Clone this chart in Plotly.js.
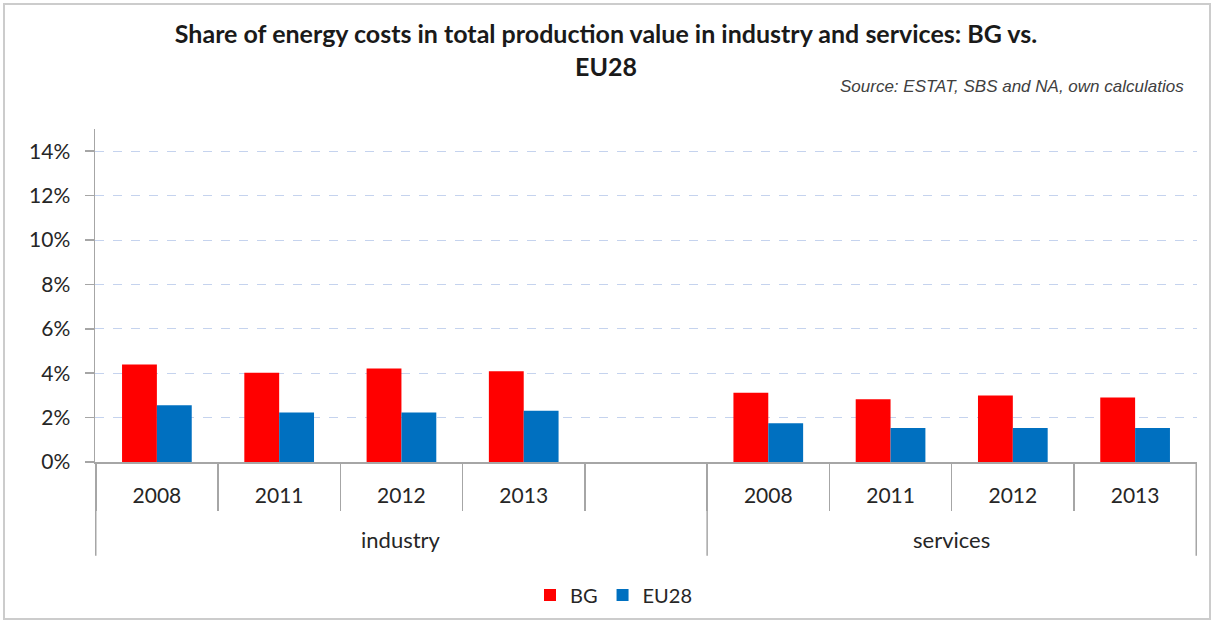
<!DOCTYPE html>
<html>
<head>
<meta charset="utf-8">
<script src="https://cdn.plot.ly/plotly-3.0.1.min.js"></script>
<style>
  html, body { margin: 0; padding: 0; background: #ffffff; }
  #wrap { position: relative; width: 1213px; height: 625px; overflow: hidden; }
  #chart { position: absolute; left: 0; top: 0; width: 1213px; height: 625px; }
  #frame { position: absolute; left: 3px; top: 3px; width: 1208px; height: 617px;
           border: 2px solid #cccccc; box-sizing: border-box; pointer-events: none; }
</style>
</head>
<body>
<div id="wrap">
  <div id="chart"></div>
  <div id="frame"></div>
</div>
<script>
// ---- data ----
var sectors = ['industry', 'industry', 'industry', 'industry', 'industry',
               'services', 'services', 'services', 'services'];
var years   = ['2008', '2011', '2012', '2013', '',
               '2008', '2011', '2012', '2013'];
var bgValues   = [4.39, 4.02, 4.21, 4.09, null, 3.12, 2.83, 3.00, 2.91];
var eu28Values = [2.56, 2.23, 2.23, 2.31, null, 1.75, 1.53, 1.53, 1.53];
var seriesNames = ['BG', 'EU28'];
var yTickValues = [0, 2, 4, 6, 8, 10, 12, 14];

// unique category keys (sector + year), shown with the year only
var categories = sectors.map(function (s, i) { return s + '|' + years[i] + '|' + i; });

var FONT = 'Lato, "Open Sans", sans-serif';
var AXIS_GREY = '#a6a6a6';
var TEXT = '#262626';

// plot-area geometry (pixels) used to place the group row below the axis
var PLOT_H = 625 - 129 - 162;
var GROUP_LABEL_Y = -(541 - 463) / PLOT_H;
var DIVIDER_END_Y = -(557 - 463) / PLOT_H;

var traces = [
  { type: 'bar', name: seriesNames[0], x: categories, y: bgValues,
    marker: { color: '#ff0000' }, hoverinfo: 'y+name' },
  { type: 'bar', name: seriesNames[1], x: categories, y: eu28Values,
    marker: { color: '#0070c0' }, hoverinfo: 'y+name' }
];

// group labels and group dividers, derived from the sector list
var groups = [];
sectors.forEach(function (s, i) {
  var g = groups.length ? groups[groups.length - 1] : null;
  if (!g || g.name !== s) groups.push({ name: s, first: i, last: i });
  else g.last = i;
});

var annotations = [
  { text: '<i>Source: ESTAT, SBS and NA, own calculatios</i>',
    xref: 'paper', yref: 'paper', x: (1186 - 95) / 1102, xanchor: 'right',
    y: (463 - 86) / PLOT_H, yanchor: 'middle', showarrow: false,
    font: { family: '"Liberation Sans", Arial, sans-serif', size: 17, color: '#404040' } }
];
var shapes = [];
groups.forEach(function (g, k) {
  annotations.push({
    text: g.name, xref: 'x', yref: 'paper',
    x: (g.first + g.last) / 2, y: GROUP_LABEL_Y, xanchor: 'center', yanchor: 'middle',
    showarrow: false, font: { family: FONT, size: 22, color: TEXT }
  });
  if (k === 0) {
    shapes.push({ type: 'line', xref: 'x', yref: 'paper', x0: g.first - 0.5, x1: g.first - 0.5,
                  y0: 0, y1: DIVIDER_END_Y, line: { color: AXIS_GREY, width: 1.5 } });
  }
  shapes.push({ type: 'line', xref: 'x', yref: 'paper', x0: g.last + 0.5, x1: g.last + 0.5,
                y0: 0, y1: DIVIDER_END_Y, line: { color: AXIS_GREY, width: 1.5 } });
});

var layout = {
  width: 1213, height: 625,
  margin: { l: 95, r: 16, t: 129, b: 162 },
  paper_bgcolor: '#ffffff', plot_bgcolor: '#ffffff',
  font: { family: FONT, color: TEXT },
  title: {
    text: '<b>Share of energy costs in total production value in industry and services: BG vs.<br>EU28</b>',
    font: { family: FONT, size: 25, color: '#1a1a1a' },
    x: 606 / 1213, xanchor: 'center', xref: 'container',
    y: 1 - 43 / 625, yanchor: 'middle', yref: 'container'
  },
  showlegend: true,
  legend: {
    orientation: 'h', x: (614 - 95) / 1102, xanchor: 'center', xref: 'paper',
    y: -(595 - 463) / PLOT_H, yanchor: 'middle',
    font: { family: FONT, size: 20, color: TEXT },
    itemwidth: 30, traceorder: 'normal'
  },
  bargap: 0.43, bargroupgap: 0,
  barmode: 'group',
  xaxis: {
    type: 'category',
    categoryorder: 'array', categoryarray: categories,
    tickmode: 'array', tickvals: categories, ticktext: years,
    showline: true, linecolor: AXIS_GREY, linewidth: 1.5,
    ticks: 'outside', tickson: 'boundaries', ticklen: 47, tickcolor: AXIS_GREY, tickwidth: 1.5,
    ticklabelstandoff: 14,
    tickfont: { family: FONT, size: 21, color: TEXT },
    showgrid: false, zeroline: false, fixedrange: true
  },
  yaxis: {
    range: [0, 15],
    tickvals: yTickValues, ticktext: yTickValues.map(function (v) { return v + '%'; }),
    showline: true, linecolor: AXIS_GREY, linewidth: 1.5,
    ticks: 'outside', ticklen: 9, tickcolor: AXIS_GREY, tickwidth: 1.5,
    showgrid: true, gridcolor: '#c5d3ee', griddash: 'dash', gridwidth: 1,
    zeroline: false,
    tickfont: { family: FONT, size: 21, color: TEXT },
    ticklabelstandoff: 10, fixedrange: true
  },
  annotations: annotations,
  shapes: shapes
};

Plotly.newPlot('chart', traces, layout, { displayModeBar: false, staticPlot: true });
</script>
</body>
</html>
